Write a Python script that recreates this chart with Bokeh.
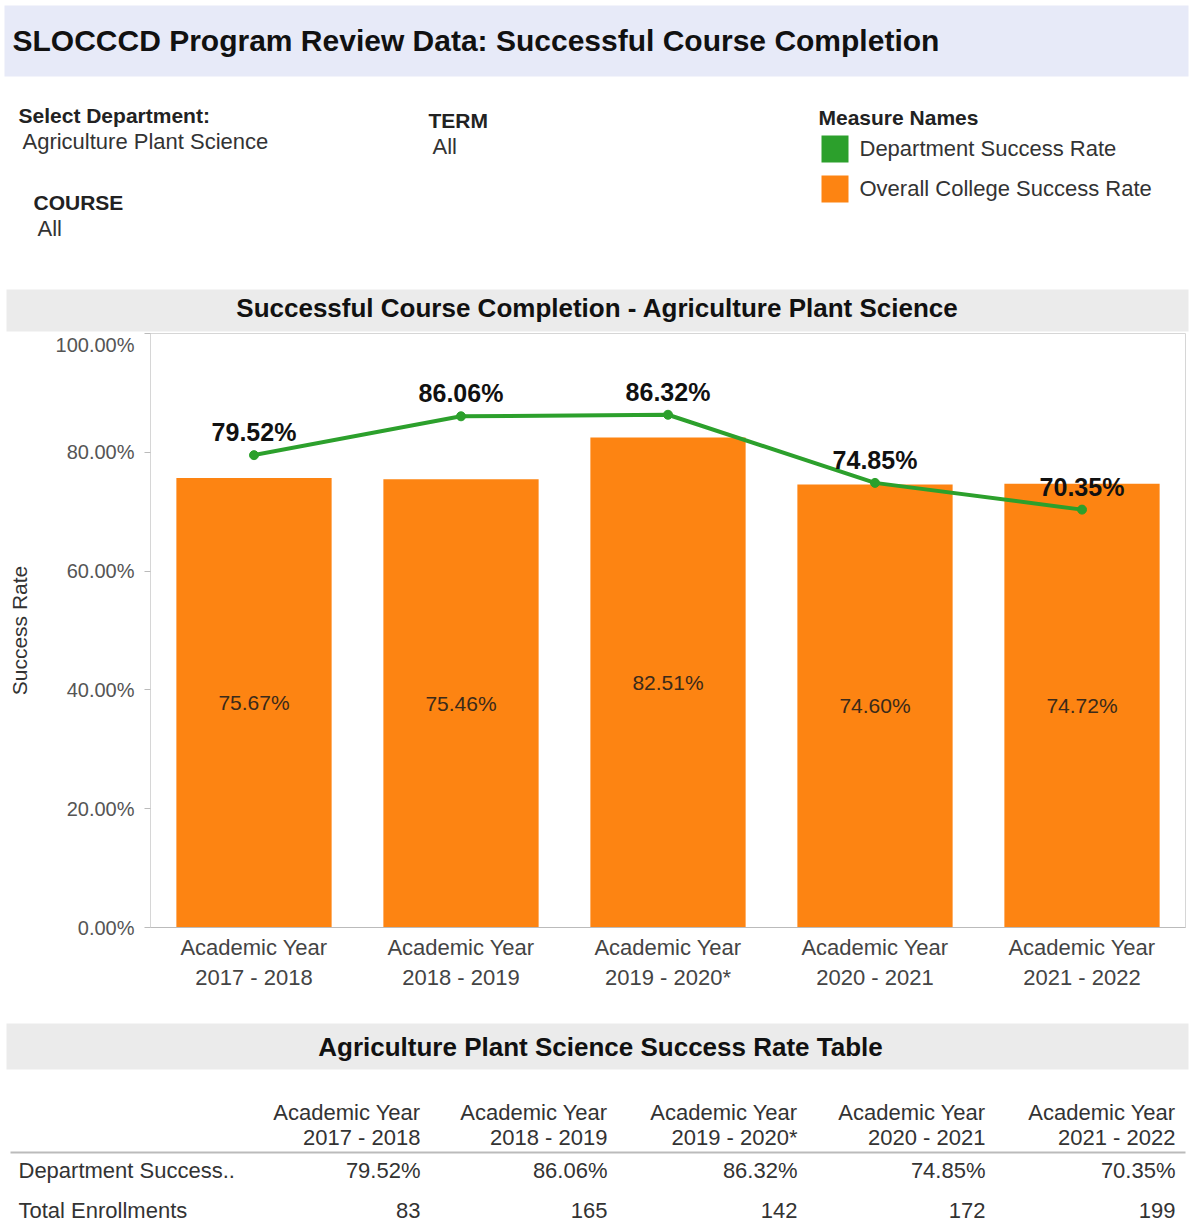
from bokeh.plotting import figure
from bokeh.models import Range1d, FactorRange, ColumnDataSource, PrintfTickFormatter, FixedTicker
from bokeh.layouts import column
from bokeh.core.properties import value
from bokeh.embed import file_html
from bokeh.resources import INLINE

# ---------------- data ----------------
year_top = ["Academic Year"] * 5
year_bottom = ["2017 - 2018", "2018 - 2019", "2019 - 2020*", "2020 - 2021", "2021 - 2022"]
dept_rate = [79.52, 86.06, 86.32, 74.85, 70.35]
college_rate = [75.67, 75.46, 82.51, 74.60, 74.72]
enrollments = [83, 165, 142, 172, 199]
y_ticks = [0, 20, 40, 60, 80, 100]

FONT = value("Liberation Sans")
GREEN = "#2ca02c"
ORANGE = "#fd8412"
W = 1190

cats = [f"{a}\n{b}" for a, b in zip(year_top, year_bottom)]
dept_lbl = [f"{v:.2f}%" for v in dept_rate]
coll_lbl = [f"{v:.2f}%" for v in college_rate]
coll_mid = [v / 2 for v in college_rate]


def blank(height, y0, y1):
    f = figure(width=W, height=height, x_range=Range1d(0, W), y_range=Range1d(y1, y0),
               x_axis_location=None, y_axis_location=None, toolbar_location=None,
               output_backend="svg", min_border=0, outline_line_color=None)
    f.grid.visible = False
    f.frame_align = False
    return f


# ---------------- header ----------------
h = blank(333, 0, 333)
h.quad(left=[4], right=[1188], top=[5], bottom=[76], fill_color="#e7eaf8", line_color=None)
h.quad(left=[6], right=[1188], top=[289], bottom=[331], fill_color="#ebebeb", line_color=None)
h.text(x=[12], y=[40], text=["SLOCCCD Program Review Data: Successful Course Completion"],
       text_font=FONT, text_font_style="bold", text_font_size="30px", text_baseline="middle",
       text_color="#111111")
h.text(x=[18, 428, 33, 818], y=[115, 120, 202, 117],
       text=["Select Department:", "TERM", "COURSE", "Measure Names"],
       text_font=FONT, text_font_style="bold", text_font_size="21px", text_baseline="middle",
       text_color="#222222")
h.text(x=[22, 432, 37], y=[141, 146, 228],
       text=["Agriculture Plant Science", "All", "All"],
       text_font=FONT, text_font_size="22px", text_baseline="middle", text_color="#333333")
h.quad(left=[821, 821], right=[848, 848], top=[135, 175], bottom=[162, 202],
       fill_color=[GREEN, ORANGE], line_color=None)
h.text(x=[859, 859], y=[148, 188], text=["Department Success Rate", "Overall College Success Rate"],
       text_font=FONT, text_font_size="22px", text_baseline="middle", text_color="#333333")
h.text(x=[597], y=[307], text=["Successful Course Completion - Agriculture Plant Science"],
       text_font=FONT, text_font_style="bold", text_font_size="26px", text_baseline="middle",
       text_align="center", text_color="#111111")

# ---------------- chart ----------------
src = ColumnDataSource(dict(cat=cats, dept=dept_rate, coll=college_rate,
                            dept_lbl=dept_lbl, coll_lbl=coll_lbl, coll_mid=coll_mid))
c = figure(width=W, height=667, x_range=FactorRange(factors=cats), y_range=Range1d(0, 100),
           min_border_left=150, min_border_right=W - 1185, min_border_top=0, min_border_bottom=73,
           toolbar_location=None, output_backend="svg")
c.frame_align = False
c.grid.visible = False
c.outline_line_color = "#d6d6d6"
c.vbar(x="cat", top="coll", width=0.75, source=src, fill_color=ORANGE, line_color=None)
c.line(x="cat", y="dept", source=src, line_color=GREEN, line_width=4)
c.scatter(x="cat", y="dept", source=src, size=9, fill_color=GREEN, line_color=GREEN)
c.text(x="cat", y="dept", text="dept_lbl", source=src, y_offset=-23, text_align="center",
       text_baseline="middle", text_font=FONT, text_font_style="bold", text_font_size="25px",
       text_color="#111111")
c.text(x="cat", y="coll_mid", text="coll_lbl", source=src, text_align="center",
       text_baseline="middle", text_font=FONT, text_font_size="21px", text_color="#3a2a1a")

c.yaxis.ticker = FixedTicker(ticks=y_ticks)
c.yaxis.formatter = PrintfTickFormatter(format="%.2f%%")
c.yaxis.axis_label = "Success Rate"
c.yaxis.axis_label_text_font = "Liberation Sans"
c.yaxis.axis_label_text_font_style = "normal"
c.yaxis.axis_label_text_font_size = "21px"
c.yaxis.axis_label_text_color = "#333333"
c.yaxis.axis_label_standoff = 22
c.yaxis.major_label_text_font = "Liberation Sans"
c.yaxis.major_label_text_font_size = "20px"
c.yaxis.major_label_text_color = "#555555"
c.yaxis.major_label_standoff = 10
c.yaxis.axis_line_color = "#d6d6d6"
c.yaxis.major_tick_line_color = "#bbbbbb"
c.yaxis.major_tick_out = 6
c.yaxis.major_tick_in = 0
c.yaxis.minor_tick_line_color = None

c.xaxis.major_label_text_font = "Liberation Sans"
c.xaxis.major_label_text_font_size = "22px"
c.xaxis.major_label_text_color = "#444444"
c.xaxis.major_label_standoff = 1
c.xaxis.axis_line_color = "#bbbbbb"
c.xaxis.major_tick_line_color = None

# ---------------- table ----------------
t = blank(226, 1000, 1226)
t.quad(left=[6], right=[1188], top=[1023], bottom=[1069], fill_color="#ebebeb", line_color=None)
t.text(x=[600], y=[1046], text=["Agriculture Plant Science Success Rate Table"],
       text_font=FONT, text_font_style="bold", text_font_size="26px", text_baseline="middle",
       text_align="center", text_color="#111111")
col_right = [420, 607, 797, 985, 1175]
tsrc = ColumnDataSource(dict(x=col_right, top=year_top, bot=year_bottom, dept=dept_lbl,
                             enr=[str(e) for e in enrollments]))
common = dict(text_font=FONT, text_font_size="22px", text_baseline="middle", text_align="right",
              text_color="#333333", source=tsrc)
t.text(x="x", y=1112, text="top", **common)
t.text(x="x", y=1137, text="bot", **common)
t.text(x="x", y=1170, text="dept", **common)
t.text(x="x", y=1210, text="enr", **common)
t.segment(x0=[10], y0=[1152], x1=[1185], y1=[1152], line_color="#bbbbbb", line_width=2)
t.text(x=[18, 18], y=[1170, 1210], text=["Department Success..", "Total Enrollments"],
       text_font=FONT, text_font_size="22px", text_baseline="middle", text_color="#333333")

layout = column(h, c, t, spacing=0)
open("out.html", "w").write(file_html(layout, INLINE))
